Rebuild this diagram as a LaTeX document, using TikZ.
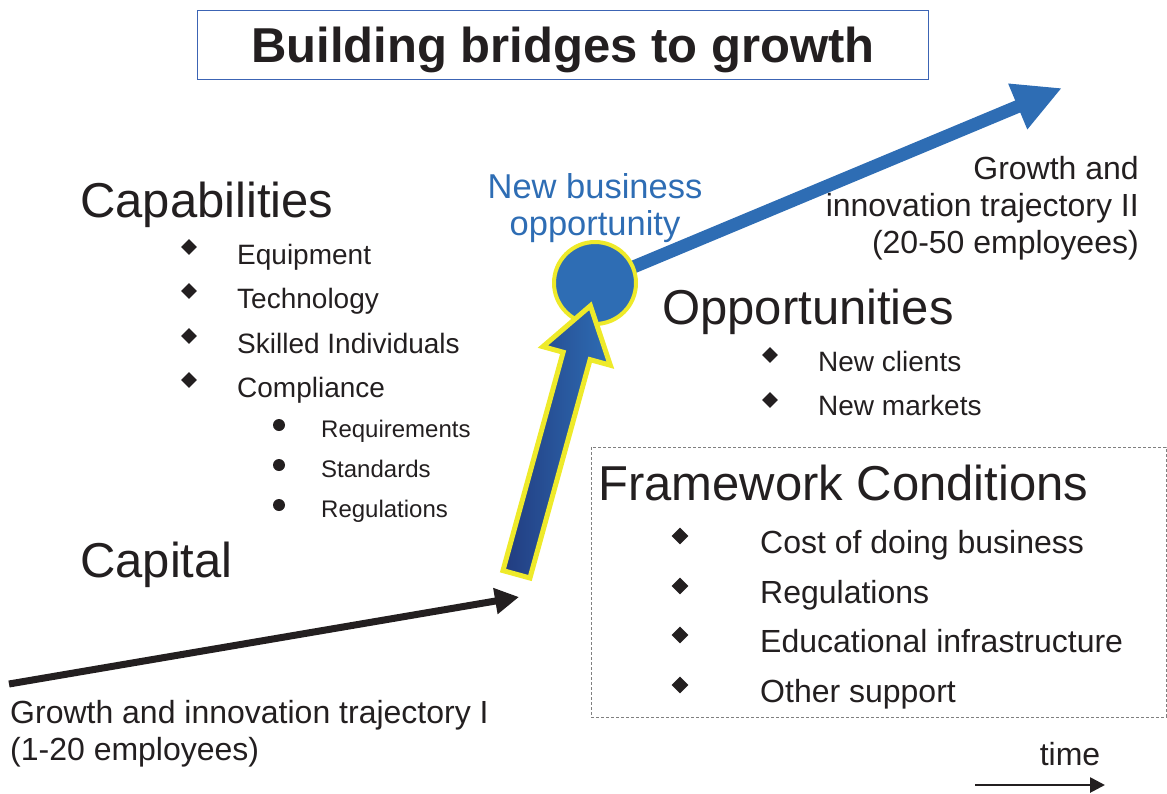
\documentclass[tikz,border=0pt]{standalone}
\usepackage{fontspec}
\setmainfont{Liberation Sans}
\usepackage{tikz}
\usetikzlibrary{shapes.geometric, arrows.meta, calc}
\usepackage{xcolor}
\definecolor{bluOpp}{RGB}{46,109,180}
\definecolor{bluMedio}{RGB}{40,92,170}
\definecolor{bluScuro}{RGB}{34,60,128}
\definecolor{giallo}{RGB}{238,234,42}
\definecolor{testo}{RGB}{35,31,32}
\definecolor{bordoTitolo}{RGB}{60,100,180}
\newcommand{\grande}{\fontsize{49}{53}\selectfont}
\newcommand{\medio}{\fontsize{28}{32}\selectfont}
\newcommand{\piccolo}{\fontsize{24}{27}\selectfont}
\newcommand{\voce}{\fontsize{32}{37}\selectfont}

\begin{document}
\begin{tikzpicture}[x = 1pt, y = -1pt, text = testo,
    rombo/.style = {diamond, fill = testo, inner sep = 0pt, minimum width = 16pt, minimum height = 16pt},
    punto/.style = {circle, fill = testo, inner sep = 0pt, minimum size = 12pt},
    voceGrande/.style = {anchor = base west, inner sep = 0pt, font = \grande},
    voceMedia/.style = {anchor = base west, inner sep = 0pt, font = \medio},
    vocePiccola/.style = {anchor = base west, inner sep = 0pt, font = \piccolo},
    voceQuadro/.style = {anchor = base west, inner sep = 0pt, font = \voce}]
    % Parametri
    \pgfmathsetmacro{\xcap}{237}
    \pgfmathsetmacro{\xsub}{321}
    \pgfmathsetmacro{\xopp}{818}
    \pgfmathsetmacro{\xfra}{760}
    % Bordi
    \useasboundingbox (0,0) rectangle (1167,793);
    % Titolo
    \node[draw = bordoTitolo, line width = 1.5pt, minimum width = 731pt, minimum height = 69pt, inner sep = 0pt, text depth = 0pt, font = \bfseries\grande] (titolo) at (563,45) {Building bridges to growth};
    % Capacita'
    \node[voceGrande] (capab) at (80,217) {Capabilities};
    \node[voceMedia] (equip) at (\xcap,264) {Equipment};
    \node[rombo] (r1) at (189,247) {};
    \node[voceMedia] (tecno) at (\xcap,308) {Technology};
    \node[rombo] (r2) at (189,291) {};
    \node[voceMedia] (skill) at (\xcap,353) {Skilled Individuals};
    \node[rombo] (r3) at (189,336) {};
    \node[voceMedia] (compl) at (\xcap,397) {Compliance};
    \node[rombo] (r4) at (189,380) {};
    \node[vocePiccola] (requis) at (\xsub,437) {Requirements};
    \node[punto] (d1) at (279,425) {};
    \node[vocePiccola] (stand) at (\xsub,477) {Standards};
    \node[punto] (d2) at (279,465) {};
    \node[vocePiccola] (regol) at (\xsub,517) {Regulations};
    \node[punto] (d3) at (279,505) {};
    % Capitale
    \node[voceGrande] (capitale) at (80,577) {Capital};
    % Opportunita'
    \node[voceGrande] (opport) at (662,324) {Opportunities};
    \node[voceMedia] (clienti) at (\xopp,371) {New clients};
    \node[rombo] (r5) at (770,355) {};
    \node[voceMedia] (mercati) at (\xopp,415) {New markets};
    \node[rombo] (r6) at (770,400) {};
    % Condizioni quadro
    \draw[gray, line width = 0.8pt, dash pattern = on 3pt off 2pt] (591,447) rectangle (1166,717);
    \node[voceGrande] (quadro) at (598,500) {Framework Conditions};
    \node[voceQuadro] (costo) at (\xfra,553) {Cost of doing business};
    \node[rombo, minimum width = 17pt, minimum height = 17pt] (r7) at (680,536) {};
    \node[voceQuadro] (regole) at (\xfra,603) {Regulations};
    \node[rombo, minimum width = 17pt, minimum height = 17pt] (r8) at (680,586) {};
    \node[voceQuadro] (istruz) at (\xfra,652) {Educational infrastructure};
    \node[rombo, minimum width = 17pt, minimum height = 17pt] (r9) at (680,635) {};
    \node[voceQuadro] (supporto) at (\xfra,702) {Other support};
    \node[rombo, minimum width = 17pt, minimum height = 17pt] (r10) at (680,685) {};
    % Traiettorie
    \node[anchor = west, align = left, inner sep = 0pt, font = \voce] (traiettI) at (10,734) {Growth and innovation trajectory I\\(1-20 employees)};
    \node[anchor = east, align = right, inner sep = 0pt, font = \voce] (traiettII) at (1139,208) {Growth and\\innovation trajectory II\\(20-50 employees)};
    \node[align = center, inner sep = 0pt, text = bluOpp, font = \fontsize{34.5}{37}\selectfont] (nuovaOpp) at (595,208) {New business\\opportunity};
    % Punti d'interesse
    \coordinate (codaI) at (9,684);
    \coordinate (puntaI) at (519,597);
    \coordinate (centro) at (595,283);
    \coordinate (puntaII) at (1062,88);
    \coordinate (baseF) at (515.8,576.7);
    % Freccia nera
    \draw[testo, line width = 7pt, -{Triangle[length = 24pt, width = 25pt]}] (codaI) -- (puntaI);
    % Freccia blu e cerchio
    \draw[bluOpp, line width = 13pt, -{Triangle[length = 48pt, width = 46pt]}] (centro) -- (puntaII);
    \node[circle, fill = bluOpp, draw = giallo, line width = 4pt, minimum size = 82pt, inner sep = 0pt] (opp) at (centro) {};
    % Freccia grossa (la sfumatura ruota con lo scope)
    \begin{scope}[shift = {(baseF)}, rotate = 74.6]
        \shadedraw[draw = giallo, line width = 5pt, left color = bluScuro, middle color = bluMedio, right color = bluOpp]
            (2.5,-14) -- (229,-14) -- (229,-35) -- (281,0) -- (229,35) -- (229,14) -- (2.5,14) -- cycle;
    \end{scope}
    % Tempo
    \coordinate (tempoA) at (975,785);
    \coordinate (tempoB) at (1105,785);
    \draw[testo, line width = 2.7pt, -{Triangle[length = 15pt, width = 15pt]}] (tempoA) -- (tempoB);
    \node[anchor = base, inner sep = 0pt, font = \voce] (tempo) at (1070,765) {time};
\end{tikzpicture}
\end{document}
